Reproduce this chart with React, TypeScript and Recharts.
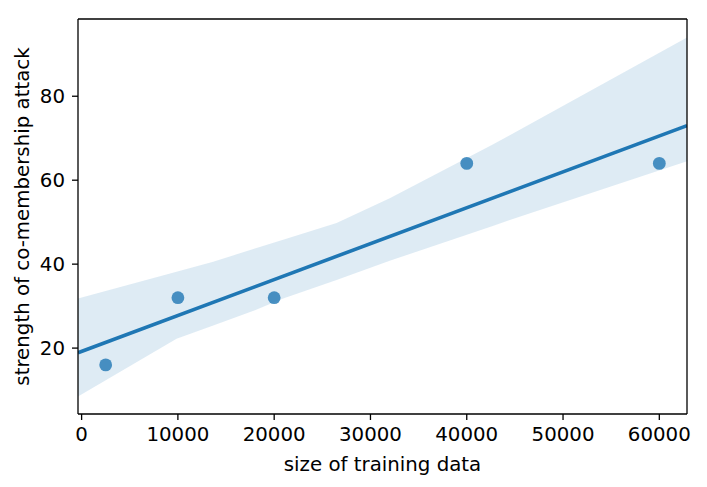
import React from 'react';
import { ComposedChart, Area, Line, Scatter, XAxis, YAxis, ReferenceLine, Label } from 'recharts';

// observed points
const sizes = [2500, 10000, 20000, 40000, 60000];
const strengths = [16, 32, 32, 64, 64];

// confidence band
const bandX = [-375, 9860, 13670, 18000, 20930, 26480, 32000, 42700, 44470, 62875];
const bandLow = [8.45, 22.2, 25.4, 29.0, 31.8, 36.2, 40.8, 49.1, 50.5, 64.5];
const bandHigh = [31.8, 38.2, 40.6, 43.7, 45.8, 49.8, 55.7, 68.5, 70.7, 94.0];

// regression line end points
const fitX = [-375, 62875];
const fitY = [18.9, 73.0];

const xTicks = [0, 10000, 20000, 30000, 40000, 50000, 60000];
const yTicks = [20, 40, 60, 80];
const X_DOMAIN: [number, number] = [-375, 62875];
const Y_DOMAIN: [number, number] = [4.3, 98.4];

const BLUE = '#1f77b4';
const FONT = '"DejaVu Sans", sans-serif';
const FS = 19.8;

export default function App() {
    const rows = bandX.map((x, i) => {
        const row: any = { x, band: [bandLow[i], bandHigh[i]] };
        const k = fitX.indexOf(x);
        if (k >= 0) row.fit = fitY[k];
        return row;
    });

    const points = sizes.map((s, i) => ({ x: s, y: strengths[i] }));

    const tick = { fontSize: FS, fill: '#000', fontFamily: FONT };

    return (
        <div style={{ margin: -8 }}>
            <ComposedChart width={707} height={487} data={rows} margin={{ top: 19, right: 20, left: 0, bottom: 0 }}>
                <XAxis
                    dataKey="x"
                    type="number"
                    domain={X_DOMAIN}
                    ticks={xTicks}
                    allowDataOverflow
                    height={73}
                    tickSize={6}
                    tickMargin={7}
                    tick={tick}
                    stroke="#000"
                    strokeWidth={1.3}
                    tickLine={{ stroke: '#000', strokeWidth: 1.3 }}
                >
                    <Label value="size of training data" position="center" dy={13} style={{ fontSize: FS, fill: '#000', fontFamily: FONT }} />
                </XAxis>
                <YAxis
                    type="number"
                    domain={Y_DOMAIN}
                    ticks={yTicks}
                    allowDataOverflow
                    width={78}
                    tickSize={6}
                    tickMargin={7}
                    tick={tick}
                    stroke="#000"
                    strokeWidth={1.3}
                    tickLine={{ stroke: '#000', strokeWidth: 1.3 }}
                >
                    <Label value="strength of co-membership attack" angle={-90} position="center" dx={-17} style={{ fontSize: FS, fill: '#000', fontFamily: FONT, textAnchor: 'middle' }} />
                </YAxis>
                <Area dataKey="band" type="linear" stroke="none" fill={BLUE} fillOpacity={0.15} isAnimationActive={false} />
                <Line dataKey="fit" type="linear" stroke={BLUE} strokeWidth={3.6} dot={false} connectNulls isAnimationActive={false} />
                <Scatter
                    data={points}
                    dataKey="y"
                    isAnimationActive={false}
                    shape={(p: any) => <circle cx={p.cx} cy={p.cy} r={6.4} fill={BLUE} fillOpacity={0.8} />}
                />
                <ReferenceLine y={Y_DOMAIN[1]} stroke="#000" strokeWidth={1.3} />
                <ReferenceLine x={X_DOMAIN[1]} stroke="#000" strokeWidth={1.3} />
            </ComposedChart>
        </div>
    );
}
